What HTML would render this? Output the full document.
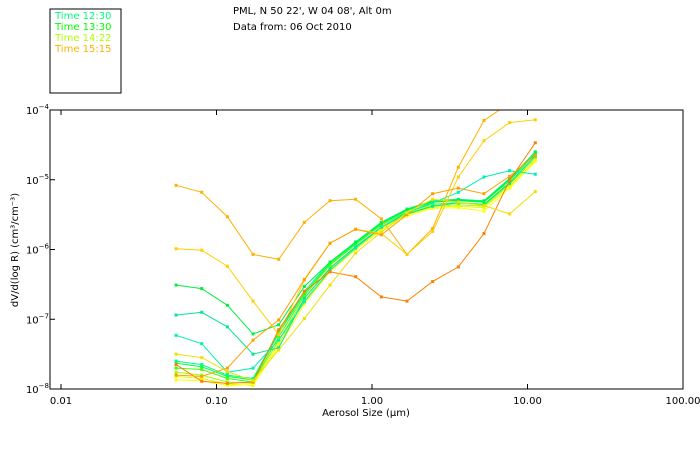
<!DOCTYPE html>
<html><head><meta charset="utf-8"><style>
body{margin:0;background:#fff;}
svg{display:block;font-family:"DejaVu Sans","Liberation Sans",sans-serif;}
</style></head><body>
<svg id="chart" width="700" height="450">
<rect x="50" y="9" width="71" height="84" fill="none" stroke="#000"/>
<g font-size="10">
<text x="55" y="19" fill="#00ff80">Time 12:30</text>
<text x="55" y="30" fill="#00ff00">Time 13:30</text>
<text x="55" y="41" fill="#b0ff00">Time 14:22</text>
<text x="55" y="52" fill="#ffb000">Time 15:15</text>
</g>
<text x="233" y="14" font-size="10">PML, N 50 22', W 04 08', Alt 0m</text>
<text x="233" y="30" font-size="10">Data from: 06 Oct 2010</text>
<g id="plot"></g>
<text x="366" y="416" font-size="10" text-anchor="middle">Aerosol Size (µm)</text>
<text transform="translate(18,250) rotate(-90)" font-size="10" text-anchor="middle">dV/d(log R) (cm³/cm⁻³)</text>
</svg>
<script>
const xTicks=[0.01,0.1,1,10,100];
const xTickLabels=["0.01","0.10","1.00","10.00","100.00"];
const yTickExps=[-4,-5,-6,-7,-8];
const binsLogStart=-1.26, binsLogStep=0.165;
const sizes=[];for(let i=0;i<15;i++)sizes.push(Math.pow(10,binsLogStart+binsLogStep*i));
// log10 dV/dlogR per bin
const sClusterA=[-7.63,-7.68,-7.82,-7.87,-7.20,-6.63,-6.20,-5.91,-5.63,-5.44,-5.32,-5.30,-5.32,-5.01,-4.63];
const sClusterB=[-7.70,-7.72,-7.85,-7.90,-7.25,-6.66,-6.22,-5.93,-5.65,-5.46,-5.35,-5.33,-5.35,-5.04,-4.66];
const sClusterC=[-7.76,-7.80,-7.90,-7.92,-7.30,-6.70,-6.26,-5.96,-5.68,-5.48,-5.37,-5.36,-5.38,-5.07,-4.69];
const sClusterD=[-7.82,-7.85,-7.93,-7.95,-7.35,-6.74,-6.29,-5.98,-5.70,-5.50,-5.39,-5.38,-5.40,-5.10,-4.72];
const sClusterE=[-7.60,-7.65,-7.80,-7.85,-7.18,-6.60,-6.18,-5.89,-5.61,-5.42,-5.30,-5.28,-5.30,-4.98,-4.61];
const sClusterF=[-7.87,-7.88,-7.95,-7.94,-7.40,-6.78,-6.32,-6.00,-5.72,-5.52,-5.41,-5.40,-5.45,-5.12,-4.74];
const sGreen=[-6.51,-6.56,-6.80,-7.21,-7.08,-6.53,-6.18,-5.90,-5.62,-5.43,-5.31,-5.29,-5.31,-4.99,-4.60];
const sTeal=[-6.94,-6.90,-7.11,-7.50,-7.41,-6.70,-6.27,-5.96,-5.68,-5.49,-5.38,-5.33,-5.36,-5.05,-4.66];
const sTeal2=[-7.23,-7.35,-7.76,-7.70,-7.30,-6.75,-6.30,-5.98,-5.68,-5.47,-5.33,-5.18,-4.96,-4.87,-4.92];
const sOrangeTop=[-5.08,-5.18,-5.53,-6.07,-6.14,-5.61,-5.30,-5.28,-5.56,-6.07,-5.70,-4.82,-4.15,-3.9,-3.7];
const sYellowHigh=[-5.99,-6.01,-6.24,-6.74,-7.22,-6.44,-5.91,-5.71,-5.77,-6.07,-5.74,-4.96,-4.44,-4.18,-4.14];
const sOrangeDark=[-7.65,-7.89,-7.92,-7.90,-7.15,-6.60,-6.32,-6.39,-6.68,-6.74,-6.46,-6.25,-5.77,-5.01,-4.47];
const sOrangeMid=[-7.80,-7.82,-7.70,-7.30,-7.01,-6.43,-5.91,-5.71,-5.79,-5.50,-5.20,-5.12,-5.20,-4.95,-4.65];
const sYellowLate=[-7.50,-7.55,-7.75,-7.88,-7.44,-6.99,-6.51,-6.05,-5.75,-5.47,-5.28,-5.32,-5.37,-5.49,-5.17];
const seriesList=[
 [sClusterA,"#00ff40"],[sClusterB,"#40ff00"],[sClusterC,"#a0ff00"],[sClusterD,"#e0ff00"],
 [sClusterE,"#00ff80"],[sClusterF,"#ffff00"],[sGreen,"#00f040"],[sTeal,"#00e890"],[sTeal2,"#00f0b0"],
 [sOrangeTop,"#ffb000"],[sYellowHigh,"#ffd000"],[sOrangeDark,"#ff8000"],[sOrangeMid,"#ffa000"],[sYellowLate,"#f0e000"]];
const L=50,R=683,T=110,B=389,x0=61,dec=155.5;
const xs=v=>x0+(Math.log10(v)+2)*dec;
const ys=lg=>T+(-4-lg)*(B-T)/4;
const NS="http://www.w3.org/2000/svg";
const plot=document.getElementById('plot');
function mk(t,a){const e=document.createElementNS(NS,t);for(const k in a)e.setAttribute(k,a[k]);return e;}
const defs=mk('defs',{});const cp=mk('clipPath',{id:'clip'});cp.appendChild(mk('rect',{x:L,y:T,width:R-L,height:B-T}));defs.appendChild(cp);plot.appendChild(defs);
const g=mk('g',{'clip-path':'url(#clip)'});plot.appendChild(g);
seriesList.forEach((s,i)=>{
 const pts=s[0].map((lg,j)=>xs(sizes[j]).toFixed(1)+","+ys(lg).toFixed(1)).join(" ");
 const pl=mk('polyline',{points:pts,fill:'none',stroke:s[1],'stroke-width':1});
 
 
 g.appendChild(pl);
 s[0].forEach((lg,j)=>{
  const r=mk('rect',{x:xs(sizes[j])-1.5,y:ys(lg)-1.5,width:3,height:3,fill:s[1]});
  
  
  g.appendChild(r);
 });
});
const frame=mk('rect',{x:L,y:T,width:R-L,height:B-T,fill:'none',stroke:'#000'});


plot.appendChild(frame);
xTicks.forEach((v,i)=>{
 const x=xs(v);
 if(x>L+1&&x<R-1){
  const t1=mk('line',{x1:x,x2:x,y1:T,y2:T+5,stroke:'#000'});
  
  
  plot.appendChild(t1);
  const t2=mk('line',{x1:x,x2:x,y1:B,y2:B-5,stroke:'#000'});
  
  
  plot.appendChild(t2);
 }
 const tx=mk('text',{x:x,y:B+15,'font-size':10,'text-anchor':'middle'});
 tx.textContent=xTickLabels[i];
 
 
 plot.appendChild(tx);
});
yTickExps.forEach(e=>{
 const y=ys(e);
 if(e>-4&&e<-8+0.01===false){}
 const tk=mk('line',{x1:L,x2:L+5,y1:y,y2:y,stroke:'#000'});
 
 
 plot.appendChild(tk);
 const tx=mk('text',{x:49,y:y+4,'font-size':10,'text-anchor':'end'});
 const base=mk('tspan',{});base.textContent='10';
 const sp=mk('tspan',{dy:-5,'font-size':7});sp.textContent=String(e).replace('-','−');
 tx.appendChild(base);tx.appendChild(sp);
 
 
 plot.appendChild(tx);
});
</script>
</body></html>
